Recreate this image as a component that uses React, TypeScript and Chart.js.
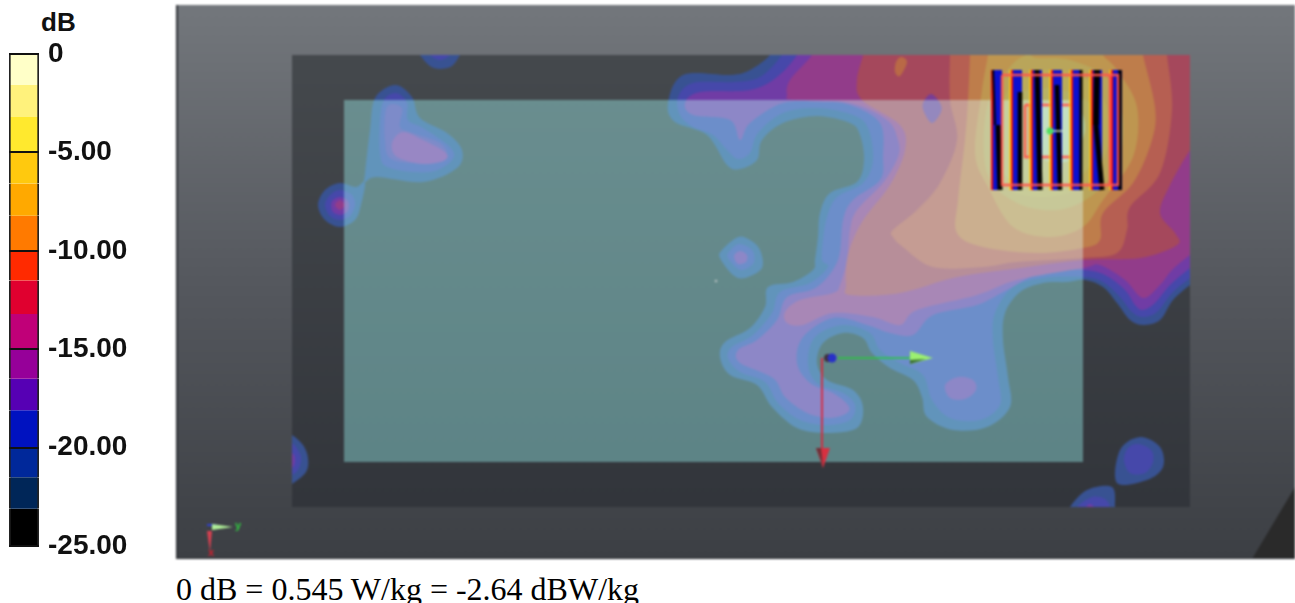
import React, { useEffect, useRef } from "react";
import { Chart, registerables } from "chart.js";

Chart.register(...registerables);

// ---------- colour scale ----------
const bandTops = [0, -1.58, -3.2, -5, -6.58, -8.21, -10, -11.5, -13.2, -15, -16.5, -18.1, -20, -21.5, -23.1];
const bandBottoms = [-1.58, -3.2, -5, -6.58, -8.21, -10, -11.5, -13.2, -15, -16.5, -18.1, -20, -21.5, -23.1, -25];
const bandColors = ["#FFFFC8", "#FFF27C", "#FFE92E", "#FFC90E", "#FFA900", "#FF7A00", "#FF2A00", "#E0002F", "#C00078", "#960099", "#5600B4", "#0012C0", "#00289A", "#002658", "#000000"];
const footerText = "0 dB = 0.545 W/kg = -2.64 dBW/kg";

// ---------- contour outlines, scan coordinates ----------
const level1Main = [[770,45],[770,55],[750,70],[730,75],[683,75],[668,103],[675,122],[707,135],[727,165],[740,169],[757,160],[762,140],[783,123],[817,116],[850,123],[860,135],[864,160],[857,182],[830,193],[820,213],[818,237],[815,260],[813,270],[793,282],[768,287],[765,307],[750,328],[725,342],[720,357],[730,375],[757,385],[772,407],[797,428],[827,433],[857,428],[863,407],[853,390],[827,380],[817,363],[823,343],[843,333],[863,338],[872,353],[890,368],[913,380],[922,397],[927,417],[953,430],[987,427],[1010,407],[1008,377],[1003,340],[1005,313],[1020,292],[1043,283],[1067,282],[1085,280],[1103,287],[1117,303],[1130,320],[1143,325],[1160,320],[1173,300],[1190,285],[1200,278],[1200,45]];
const level1Left = [[395,85],[375,98],[370,130],[365,173],[365,182],[377,177],[423,182],[457,168],[462,150],[447,133],[420,118],[412,97]];
const level1Spot = [[340,183],[356,187],[365,182],[361,205],[355,220],[340,227],[325,220],[318,205],[325,190]];
const level1Mid = [[738,237],[722,250],[720,258],[733,275],[745,278],[762,268],[760,250],[750,240]];
const level1Top = [[415,45],[420,55],[430,66],[440,69],[452,66],[460,55],[465,45]];
const level1EdgeLeft = [[280,430],[292,435],[303,445],[308,458],[306,472],[292,484],[280,490]];
const level1Corner = [[1117,483],[1120,450],[1140,437],[1160,447],[1163,467],[1147,480]];
const level1Bottom = [[1070,515],[1070,507],[1087,490],[1112,487],[1115,507],[1115,515]];

const level2Main = [[782,45],[782,55],[760,77],[733,82],[693,83],[678,97],[680,115],[693,127],[713,135],[727,150],[738,159],[750,153],[758,133],[783,113],[817,108],[853,115],[868,128],[873,160],[863,183],[837,197],[827,217],[823,240],[822,260],[828,267],[810,283],[780,292],[772,313],[753,335],[732,347],[728,358],[740,372],[765,382],[778,403],[800,420],[827,425],[850,420],[855,405],[843,393],[817,383],[808,363],[815,337],[843,325],[870,333],[880,350],[900,363],[923,375],[932,400],[950,418],[980,420],[1000,405],[998,377],[993,340],[995,313],[1013,287],[1043,278],[1083,277],[1103,282],[1120,297],[1132,312],[1143,317],[1157,312],[1172,293],[1190,278],[1200,270],[1200,45]];
const level2Left = [[395,93],[382,105],[380,153],[390,168],[430,172],[452,160],[450,147],[423,128],[408,120],[407,102]];
const level2Spot = [[340,190],[352,195],[355,205],[350,216],[340,220],[330,216],[325,205],[330,195]];
const level2Mid = [[739,244],[729,252],[728,258],[738,269],[746,269],[754,262],[752,250]];
const level2Top = [[425,45],[430,55],[440,60],[450,55],[455,45]];
const level2EdgeLeft = [[280,442],[292,443],[299,452],[301,460],[298,470],[292,475],[280,480]];
const level2Corner = [[1138,444],[1151,450],[1153,462],[1145,473],[1130,473],[1124,460],[1128,448]];
const level2Bottom = [[1075,515],[1077,507],[1092,497],[1105,499],[1110,507],[1110,515]];

const level3Main = [[797,45],[797,55],[777,77],[750,90],[700,92],[685,103],[693,115],[730,120],[740,140],[750,123],[783,103],[823,102],[850,105],[880,123],[883,157],[880,180],[853,200],[843,220],[838,260],[817,287],[787,297],[777,320],[757,340],[738,350],[740,363],[773,378],[785,397],[807,413],[830,418],[847,413],[848,405],[833,393],[810,383],[797,363],[803,337],[833,318],[867,325],[890,333],[913,335],[933,315],[977,305],[1007,290],[1043,272],[1083,270],[1105,275],[1125,290],[1135,305],[1143,310],[1155,303],[1170,285],[1190,268],[1200,260],[1200,45]];
const level3Left = [[387,107],[385,140],[393,160],[437,163],[447,155],[440,143],[413,133],[400,127],[402,108]];
const level3Spot = [[340,197],[347,200],[349,205],[347,212],[340,215],[333,212],[331,205],[333,200]];
const level3Mid = [[740,251],[734,256],[738,264],[746,262],[747,255]];
const level3Island = [[945,385],[958,377],[973,380],[976,390],[965,399],[950,398]];
const level3EdgeLeft = [[280,452],[292,453],[295,460],[292,468],[280,470]];
const level3Bottom = [[1082,515],[1090,504],[1098,515]];

const level4Main = [[812,45],[812,55],[790,80],[787,95],[793,100],[850,103],[887,120],[898,140],[898,157],[883,183],[857,210],[850,230],[847,260],[840,285],[833,293],[800,300],[785,312],[787,323],[803,325],[833,313],[873,317],[900,325],[917,310],[977,295],[1017,280],[1083,268],[1100,265],[1125,280],[1143,298],[1160,285],[1172,270],[1190,255],[1200,250],[1200,45]];
const level4Left = [[403,132],[392,143],[397,157],[423,164],[445,160],[445,152],[423,140]];
const level4Spot = [[340,200],[345,205],[340,210],[335,205]];

const level5Main = [[863,45],[863,55],[857,80],[862,100],[900,125],[905,150],[890,185],[862,222],[848,255],[846,285],[850,295],[900,293],[957,277],[1020,268],[1083,260],[1140,258],[1177,245],[1175,233],[1160,213],[1170,185],[1190,150],[1200,140],[1200,45]];
const level4Hole = [[931,94],[940,103],[941,112],[932,123],[924,112],[923,103]];

const level6Main = [[950,45],[950,55],[950,100],[957,140],[940,183],[917,210],[893,230],[893,237],[903,247],[933,267],[983,267],[1017,262],[1083,258],[1117,253],[1127,230],[1130,207],[1160,173],[1172,110],[1167,55],[1167,45]];
const level6Patch = [[901,57],[907,62],[900,76],[895,72],[896,62]];
const level7Main = [[970,45],[970,55],[968,100],[965,140],[958,200],[957,233],[983,247],[1037,253],[1083,248],[1100,240],[1103,213],[1133,183],[1152,140],[1155,107],[1143,55],[1143,45]];
const level8Main = [[988,45],[988,55],[982,90],[975,153],[988,187],[1013,227],[1050,237],[1083,227],[1103,200],[1133,157],[1137,107],[1117,70],[1103,55],[1103,45]];
const level9Main = [[1027,55],[1010,67],[987,107],[987,173],[1017,203],[1057,210],[1090,197],[1117,167],[1123,120],[1110,80],[1070,60],[1037,58]];
const level10Main = [[1010,87],[993,140],[1000,183],[1037,197],[1083,187],[1107,150],[1107,107],[1083,77],[1043,70]];
const level11Main = [[1007,100],[997,127],[1003,173],[1037,187],[1077,180],[1097,147],[1093,107],[1063,90],[1027,90]];
const level12Main = [[1038,105],[1034,130],[1042,158],[1070,160],[1085,130],[1075,105]];

const c1 = "rgb(56,82,146)";
const c2 = "rgb(70,72,170)";
const c3 = "rgb(112,60,165)";
const c4 = "rgb(146,60,138)";
const contourLayers: [string, number[][]][] = [
  [c1, level1Main], [c1, level1Left], [c1, level1Spot], [c1, level1Mid], [c1, level1Top], [c1, level1EdgeLeft], [c1, level1Corner], [c1, level1Bottom],
  [c2, level2Main], [c2, level2Left], [c2, level2Spot], [c2, level2Mid], [c2, level2Top], [c2, level2EdgeLeft], [c2, level2Corner], [c2, level2Bottom],
  [c3, level3Main], ["rgb(92,66,168)", level3Left], [c3, level3Spot], [c3, level3Mid], [c3, level3Island], [c3, level3EdgeLeft], [c3, level3Bottom],
  [c4, level4Main], ["rgb(125,60,160)", level4Left], [c4, level4Spot],
  ["rgb(165,72,92)", level5Main], ["rgb(120,62,150)", level4Hole],
  ["rgb(182,95,82)", level6Main], ["rgb(185,105,70)", level6Patch],
  ["rgb(190,125,75)", level7Main], ["rgb(190,150,80)", level8Main], ["rgb(185,165,90)", level9Main], ["rgb(186,172,90)", level10Main], ["rgb(183,178,100)", level11Main], ["rgb(180,205,156)", level12Main],
];

// ---------- scene ----------
const sceneX = [176, 1295];
const sceneY = [5, 559];
const scanRect = [292, 55, 1190, 507];
const plateRect = [344, 100, 1083, 462];
const cornerWedge = [[1252, 559], [1295, 487], [1295, 559]];

// ---------- antenna array ----------
const stripeCenters = [997, 1017, 1037, 1057, 1077, 1097, 1117];
const stripeTop = 70;
const stripeBottom = 190;
const stripeBlack = [
  [[993,70],[995,125],2],[[998,125],[1000,190],5],[[1020,92],[1020,190],4.5],[[1037,70],[1040,190],5],[[1057,85],[1060,190],4.5],
  [[1081,70],[1081,190],3],[[1097,70],[1096,125],6],[[1096,125],[1102,190],5],[[1120,70],[1120,190],3.5],
] as [number[], number[], number][];
const outerFrame = [[1002,75],[1118,75],[1118,185],[1002,185],[1002,75]];
const innerFrame = [[1025,105],[1073,105],[1073,157],[1025,157],[1025,105]];
const frameBar = [[1030,105],[1030,157]];
const frameBarRight = [[1110,75],[1110,185]];
const feedLine = [[1050,131],[1063,131]];
const feedPoint = [[1050,131]];

// ---------- axes triads ----------
const greenAxis = [[838,358],[912,358]];
const redAxis = [[822,358],[822,450]];
const greenCone = [[910,351],[933,358],[910,364]];
const greenConeShade = [[910,360],[926,359],[910,364]];
const redCone = [[816,448],[830,448],[823,468]];
const redConeShade = [[816,448],[821,448],[823,466]];
const originDark = [[828,358]];
const originBlue = [[832,358]];
const specks = [[716,281]];
const miniGreenCone = [[212,524],[233,527],[212,530]];
const miniRedCone = [[207,531],[212,531],[210,552]];
const miniBlue = [[207,525],[216,525]];
const axisLabels: [string, number, number, string][] = [["y", 238, 526, "#30d040"], ["x", 211, 553, "#d02030"]];

const pts = (a: number[][]) => a.map(([x, y]) => ({ x, y }));

function smoothClosed(ctx: CanvasRenderingContext2D, p: { x: number; y: number }[]) {
  const n = p.length;
  ctx.beginPath();
  ctx.moveTo(p[0].x, p[0].y);
  for (let i = 0; i < n; i++) {
    const p0 = p[(i - 1 + n) % n], p1 = p[i], p2 = p[(i + 1) % n], p3 = p[(i + 2) % n];
    ctx.bezierCurveTo(p1.x + (p2.x - p0.x) / 6, p1.y + (p2.y - p0.y) / 6, p2.x - (p3.x - p1.x) / 6, p2.y - (p3.y - p1.y) / 6, p2.x, p2.y);
  }
  ctx.closePath();
}

const scenePlugin = {
  id: "scene",
  beforeDatasetsDraw(chart: any) {
    const { ctx, scales: { x, y } } = chart;
    const px = (v: number) => x.getPixelForValue(v);
    const py = (v: number) => y.getPixelForValue(v);
    ctx.save();
    const bg = ctx.createLinearGradient(0, py(sceneY[0]), 0, py(sceneY[1]));
    bg.addColorStop(0, "#73777c");
    bg.addColorStop(0.5, "#55585e");
    bg.addColorStop(1, "#3c3f44");
    ctx.fillStyle = bg;
    ctx.fillRect(0, 0, chart.width, chart.height);
    ctx.fillStyle = "#2a2a2a";
    ctx.beginPath();
    cornerWedge.forEach(([a, b], i) => (i ? ctx.lineTo(px(a), py(b)) : ctx.moveTo(px(a), py(b))));
    ctx.fill();
    ctx.fillStyle = "#303338";
    ctx.fillRect(0, 0, 2, chart.height);
    ctx.fillRect(0, chart.height - 1, chart.width, 1);

    const [sx0, sy0, sx1, sy1] = scanRect;
    const sg = ctx.createLinearGradient(0, py(sy0), 0, py(sy1));
    sg.addColorStop(0, "#45494d");
    sg.addColorStop(1, "#32353b");
    ctx.fillStyle = sg;
    ctx.fillRect(px(sx0), py(sy0), px(sx1) - px(sx0), py(sy1) - py(sy0));

    ctx.save();
    ctx.beginPath();
    ctx.rect(px(sx0), py(sy0), px(sx1) - px(sx0), py(sy1) - py(sy0));
    ctx.clip();
    const total = chart.data.datasets.length;
    for (let i = total - 1; i >= 0; i--) {
      const ds = chart.data.datasets[i];
      if (!ds.contourFill) continue;
      smoothClosed(ctx, chart.getDatasetMeta(i).data);
      ctx.fillStyle = ds.contourFill;
      ctx.fill();
    }
    ctx.restore();

    ctx.globalCompositeOperation = "screen";
    ctx.fillStyle = "rgb(52,98,96)";
    const [px0, py0, px1, py1] = plateRect;
    ctx.fillRect(px(px0), py(py0), px(px1) - px(px0), py(py1) - py(py0));
    ctx.restore();
  },
  afterDatasetsDraw(chart: any) {
    const { ctx, scales: { x, y } } = chart;
    ctx.save();
    const total = chart.data.datasets.length;
    for (let i = total - 1; i >= 0; i--) {
      const ds = chart.data.datasets[i];
      if (!ds.coneFill) continue;
      const d = chart.getDatasetMeta(i).data;
      ctx.beginPath();
      d.forEach((p: any, k: number) => (k ? ctx.lineTo(p.x, p.y) : ctx.moveTo(p.x, p.y)));
      ctx.closePath();
      ctx.fillStyle = ds.coneFill;
      ctx.fill();
    }
    ctx.font = "bold 11px 'Liberation Sans'";
    ctx.textAlign = "center";
    ctx.textBaseline = "middle";
    axisLabels.forEach(([t, a, b, c]) => {
      ctx.fillStyle = c;
      ctx.fillText(t, x.getPixelForValue(a), y.getPixelForValue(b));
    });
    ctx.restore();
  },
};

function line(a: number[][], color: string, width: number) {
  return { data: pts(a), showLine: true, borderColor: color, borderWidth: width, pointRadius: 0, borderCapStyle: "butt" };
}

function mapDatasets() {
  const out: any[] = [];
  contourLayers.forEach(([c, a]) => out.push({ data: pts(a), contourFill: c, showLine: false, pointRadius: 0 }));
  [innerFrame, frameBar].forEach((f) => out.push(line(f, "rgba(255,85,75,0.95)", 2.4)));
  stripeCenters.forEach((cx, i) => {
    out.push(line([[cx, stripeTop], [cx, stripeBottom]], "#0a10d0", 10));
    if (i > 0) out.push(line([[cx - 6.5, stripeTop], [cx - 6.5, stripeBottom]], "#ffd000", 2));
    out.push(line([[cx - 5, stripeTop], [cx - 5, stripeBottom]], "#f01010", 2));
  });
  stripeBlack.forEach(([a, b, w]) => out.push(line([a, b], "#000000", w)));
  [outerFrame, frameBarRight].forEach((f) => out.push(line(f, "rgba(255,85,75,0.95)", 2.4)));
  out.push(line(feedLine, "#cfeecf", 1.5));
  out.push({ data: pts(feedPoint), pointRadius: 3.5, pointBackgroundColor: "#50e060", pointBorderWidth: 0 });
  out.push(line(greenAxis, "#28c83c", 1.6));
  out.push(line(redAxis, "#d8283c", 1.8));
  out.push({ data: pts(greenCone), coneFill: "#9cf070", pointRadius: 0 });
  out.push({ data: pts(greenConeShade), coneFill: "#3c7034", pointRadius: 0 });
  out.push({ data: pts(redCone), coneFill: "#d83040", pointRadius: 0 });
  out.push({ data: pts(redConeShade), coneFill: "#6e3038", pointRadius: 0 });
  out.push({ data: pts(originDark), pointRadius: 4, pointBackgroundColor: "#40303a", pointBorderWidth: 0 });
  out.push({ data: pts(originBlue), pointRadius: 4.5, pointBackgroundColor: "#2830c8", pointBorderWidth: 0 });
  out.push({ data: pts(specks), pointRadius: 1.3, pointBackgroundColor: "#b4c0c0", pointBorderWidth: 0 });
  out.push({ data: pts(miniGreenCone), coneFill: "#b0f098", pointRadius: 0 });
  out.push({ data: pts(miniRedCone), coneFill: "#d84050", pointRadius: 0 });
  out.push(line(miniBlue, "#3040d0", 2));
  return out;
}

export default function App() {
  const barRef = useRef<HTMLCanvasElement>(null);
  const mapRef = useRef<HTMLCanvasElement>(null);

  useEffect(() => {
    const bar = new Chart(barRef.current!, {
      type: "bar",
      data: {
        labels: ["dB"],
        datasets: bandColors.map((c, i) => ({
          data: [[bandBottoms[i], bandTops[i]]],
          backgroundColor: c,
          borderColor: "#222222",
          borderWidth: { left: 2, right: 2, top: 0, bottom: 0 },
          borderSkipped: false,
          grouped: false,
          barPercentage: 1,
          categoryPercentage: 1,
        })) as any,
      },
      options: {
        animation: false,
        responsive: false,
        layout: { autoPadding: false, padding: { left: 9, top: 54, bottom: 3, right: 0 } },
        plugins: { legend: { display: false }, tooltip: { enabled: false } },
        scales: {
          x: { display: false },
          y: {
            type: "linear",
            position: "right",
            min: -25,
            max: 0,
            afterFit: (s: any) => { s.width = 137; },
            border: { display: false },
            grid: { color: "#111111", lineWidth: 2, z: 1, drawTicks: false },
            ticks: {
              stepSize: 5,
              padding: 9,
              color: "#111111",
              font: { family: "'Liberation Sans'", weight: "bold", size: 28 },
              callback: (v: any) => (v === 0 ? "0" : Number(v).toFixed(2)),
            },
          },
        },
      } as any,
    });

    const map = new Chart(mapRef.current!, {
      type: "scatter",
      data: { datasets: mapDatasets().reverse() },
      options: {
        animation: false,
        responsive: false,
        layout: { autoPadding: false, padding: 0 },
        plugins: { legend: { display: false }, tooltip: { enabled: false } },
        scales: {
          x: { type: "linear", min: sceneX[0], max: sceneX[1], display: false },
          y: { type: "linear", min: sceneY[0], max: sceneY[1], reverse: true, display: false },
        },
      } as any,
      plugins: [scenePlugin],
    });
    return () => {
      bar.destroy();
      map.destroy();
    };
  }, []);

  return (
    <div style={{ position: "fixed", left: 0, top: 0, width: 1295, height: 603, overflow: "hidden", background: "#fff" }}>
      <div style={{ position: "absolute", left: 41, top: 7, font: "bold 26px 'Liberation Sans'", color: "#111", lineHeight: "30px" }}>dB</div>
      <canvas ref={barRef} width={176} height={572} style={{ position: "absolute", left: 0, top: 0, display: "block" }} />
      <canvas ref={mapRef} width={1119} height={554} style={{ position: "absolute", left: 176, top: 5, display: "block", filter: "blur(0.8px)" }} />
      <div style={{ position: "absolute", left: 176, top: 571, font: "32px 'Liberation Serif'", color: "#000", whiteSpace: "nowrap", lineHeight: "36px" }}>{footerText}</div>
    </div>
  );
}
